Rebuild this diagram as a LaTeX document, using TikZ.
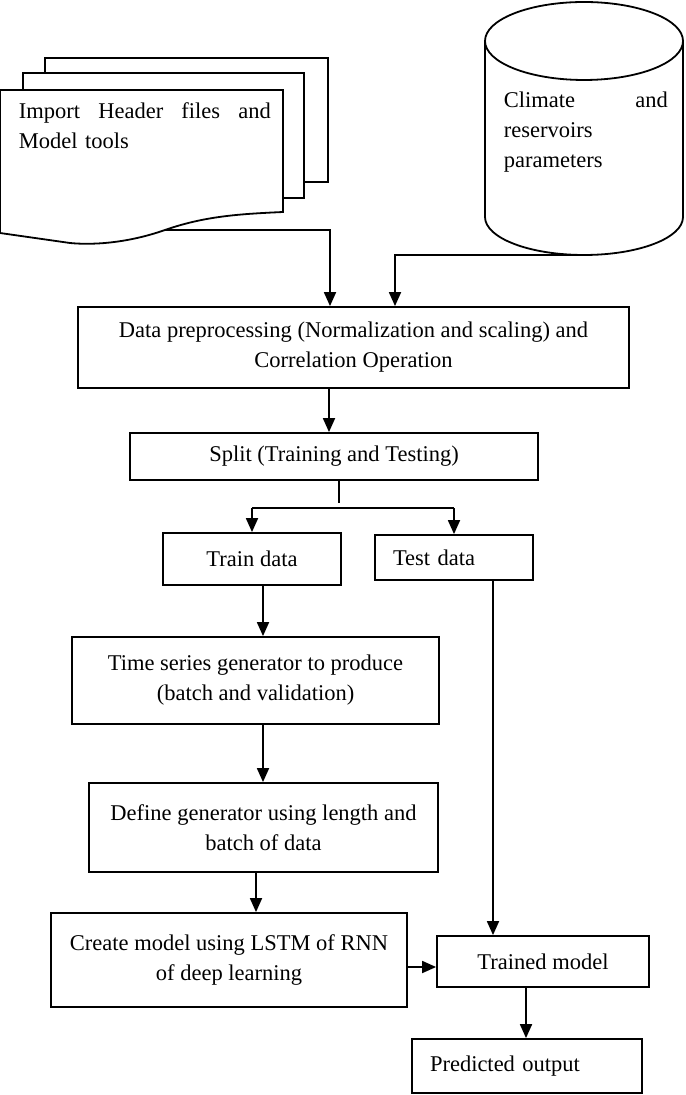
\documentclass[tikz,border=0pt]{standalone}
\usepackage{fontspec}
\setmainfont{Liberation Serif}
\usetikzlibrary{arrows.meta}

\begin{document}
\begin{tikzpicture}[->,>={Triangle[length=7pt,width=6pt]},x=0.5pt,y=-0.5pt,
                    line width=0.9pt,font=\fontsize{11.25}{15}\selectfont]
   \tikzstyle{box}=[draw=black,fill=white,rectangle,align=center]
   \tikzstyle{page}=[-,draw=black,fill=white]

   \useasboundingbox (0,0) rectangle (685,1095);

   % header files and tools (stack of pages)
   \path[page] (45,58) rectangle (328,182);
   \path[page] (23,73) rectangle (304,198);
   \path[page] (0,90) -- (283,90) -- (283,212)
        .. controls (240,214) and (205,216) .. (165,230)
        .. controls (125,244) and (90,245) .. (70,243) -- (0,233) -- cycle;
   \node[anchor=north west,text width=126pt,align=left,inner sep=0pt] (hdr) at (18,102)
        {Import\hfill Header\hfill files\hfill and\\Model tools};
   \coordinate (hdrout) at (165,230);

   % climate database
   \path[page] (485,41) -- (485,217)
        .. controls (485,238) and (529.3,255) .. (584,255)
        .. controls (638.7,255) and (683,238) .. (683,217) -- (683,41)
        .. controls (683,19.5) and (638.7,2) .. (584,2)
        .. controls (529.3,2) and (485,19.5) .. (485,41) -- cycle;
   \draw[-] (485,41) .. controls (485,62.5) and (529.3,80) .. (584,80)
        .. controls (638.7,80) and (683,62.5) .. (683,41);
   \node[anchor=north west,text width=82pt,align=left,inner sep=0pt] (db) at (503,91)
        {Climate\hfill and\\reservoirs\\parameters};
   \coordinate (dbout) at (584,255);

   \node[box,minimum width=275.5pt,minimum height=40.5pt] (data) at (353.5,347.5)
        {Data preprocessing (Normalization and scaling) and\\Correlation Operation};
   \node[box,minimum width=204pt,minimum height=23.5pt] (split) at (334,456.5)
        {Split (Training and Testing)};
   \node[box,minimum width=89pt,minimum height=26pt] (train) at (252,559) {Train data};
   \node[box,minimum height=22.5pt,text width=61pt,inner xsep=9pt,align=left] (test)
        at (454,557.5) {Test data};
   \node[box,minimum width=183.5pt,minimum height=43.5pt] (ts) at (255.5,680.5)
        {Time series generator to produce\\(batch and validation)};
   \node[box,minimum width=174.5pt,minimum height=44.5pt] (define) at (263.5,827.5)
        {Define generator using length and\\batch of data};
   \node[box,minimum width=178pt,minimum height=47pt] (create) at (229,960)
        {Create model using LSTM of RNN\\of deep learning};
   \node[box,minimum width=106pt,minimum height=25.5pt] (trained) at (543,961.5)
        {Trained model};
   \node[box,minimum height=27pt,text width=97pt,inner xsep=9pt,align=left] (predicted)
        at (527,1066) {Predicted output};

   \draw (hdrout) -| (data.north -| 330,0);
   \draw (dbout) -| (data.north -| 395,0);
   \draw (data.south -| 329,0) -- (split.north -| 329,0);
   \draw[-] (split.south -| 339,0) -- (339,503);
   \draw[-] (train.north |- 0,508) -- (test.north |- 0,508);
   \draw (train.north |- 0,508) -- (train.north);
   \draw (test.north |- 0,508) -- (test.north);
   \draw (train.south -| 263,0) -- (ts.north -| 263,0);
   \draw (ts.south -| 263,0) -- (define.north -| 263,0);
   \draw (define.south -| 256,0) -- (create.north -| 256,0);
   \draw (test.south -| 493,0) -- (trained.north -| 493,0);
   \draw (create.east |- 0,967) -- (trained.west |- 0,967);
   \draw (trained.south -| 526,0) -- (predicted.north -| 526,0);
\end{tikzpicture}
\end{document}
